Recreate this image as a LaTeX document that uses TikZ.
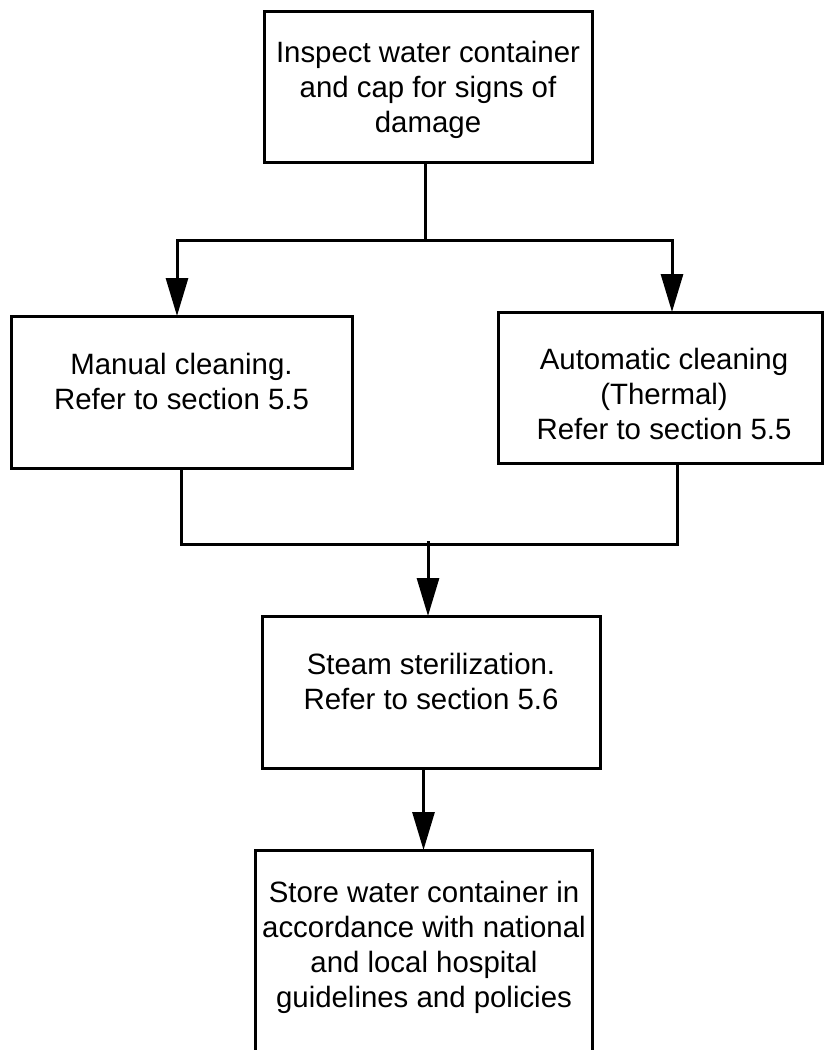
\documentclass[tikz,border=0pt]{standalone}
\usepackage{fontspec}
\setmainfont{Liberation Sans}
\usetikzlibrary{arrows.meta}
\begin{document}
\begin{tikzpicture}[x=1pt,y=-1pt,
  box/.style={draw=black,line width=3pt,rectangle,inner sep=0pt,outer sep=0pt},
  txt/.style={align=center,inner sep=0pt,font=\fontsize{29.4pt}{35pt}\selectfont},
  conn/.style={line width=3pt},
  arr/.style={line width=3pt,-{Triangle[width=22pt,length=38pt]}}]
\useasboundingbox[fill=white] (0,0) rectangle (824,1050);
% boxes
\node[box,minimum width=328pt,minimum height=151pt] (inspect) at (428,86.5) {};
\node[box,minimum width=341pt,minimum height=152pt] (manual) at (181.5,392) {};
\node[box,minimum width=324pt,minimum height=151pt] (auto) at (660,387.5) {};
\node[box,minimum width=338pt,minimum height=152pt] (steam) at (431,692) {};
\node[rectangle,inner sep=0pt,outer sep=0pt,minimum width=337pt,minimum height=200pt] (store) at (423.5,950) {};
\draw[conn] (store.south west) -- (store.north west) -- (store.north east) -- (store.south east);
% texts
\node[txt] (tinspect) at (428,90) {Inspect water container\\and cap for signs of\\damage};
\node[txt] (tmanual) at (181.5,381) {Manual cleaning.\\Refer to section 5.5};
\node[txt] (tauto) at (664,394) {Automatic cleaning\\(Thermal)\\Refer to section 5.5};
\node[txt] (tsteam) at (431,681) {Steam sterilization.\\Refer to section 5.6};
\node[txt] (tstore) at (424,947) {Store water container in\\accordance with national\\and local hospital\\guidelines and policies};
% connectors
\coordinate (split) at (425,240);
\coordinate (join) at (428,544);
\draw[conn] ([xshift=-3pt]inspect.south) -- (split);
\draw[arr] (split) -| ([xshift=-4.5pt]manual.north);
\draw[arr] (split) -| ([xshift=12pt]auto.north);
\draw[conn] (manual.south) |- (join) -| ([xshift=17pt]auto.south);
\draw[arr] ([yshift=3pt]join) -- (join |- steam.north);
\draw[arr] (steam.south -| store.north) -- (store.north);
\end{tikzpicture}
\end{document}
